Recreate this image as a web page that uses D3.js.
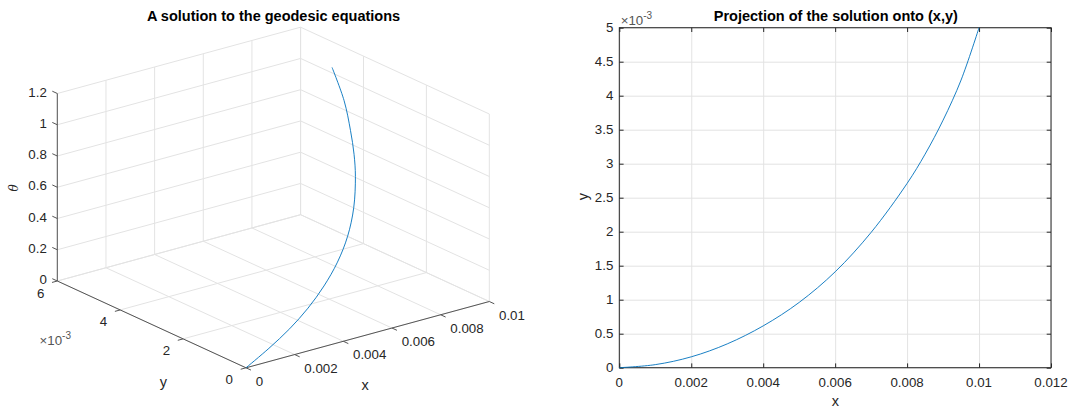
<!DOCTYPE html>
<html>
<head>
<meta charset="utf-8">
<script src="https://cdn.jsdelivr.net/npm/d3@7"></script>
<style>
  body { margin: 0; background: #fff; }
  text { font-family: "Liberation Sans", Arial, Helvetica, sans-serif; fill: #262626; }
</style>
</head>
<body>
<svg id="chart" width="1072" height="409"></svg>
<script>
// curve
const xs = [0, 0.001, 0.002, 0.003, 0.004, 0.005, 0.006, 0.007, 0.008, 0.0085, 0.009, 0.0095, 0.01];
const ys = [0, 0.000045, 0.00016, 0.00035, 0.000615, 0.00096, 0.00141, 0.00199, 0.00271, 0.00314, 0.00364, 0.00423, 0.005];
const thetas = [0, 0.078, 0.15, 0.222, 0.297, 0.375, 0.457, 0.543, 0.635, 0.715, 0.8, 0.915, 1.035];

// left (3d) axes ticks
const xTicks3 = [0, 0.002, 0.004, 0.006, 0.008, 0.01];
const xTickLabels3 = ["0", "0.002", "0.004", "0.006", "0.008", "0.01"];
const yTicks3 = [0, 0.002, 0.004, 0.006];
const yTickLabels3 = ["0", "2", "4", "6"];
const zTicks3 = [0, 0.2, 0.4, 0.6, 0.8, 1, 1.2];
const zTickLabels3 = ["0", "0.2", "0.4", "0.6", "0.8", "1", "1.2"];

// right (2d) axes ticks
const xTicks2 = [0, 0.002, 0.004, 0.006, 0.008, 0.01, 0.012];
const xTickLabels2 = ["0", "0.002", "0.004", "0.006", "0.008", "0.01", "0.012"];
const yTicks2 = [0, 0.0005, 0.001, 0.0015, 0.002, 0.0025, 0.003, 0.0035, 0.004, 0.0045, 0.005];
const yTickLabels2 = ["0", "0.5", "1", "1.5", "2", "2.5", "3", "3.5", "4", "4.5", "5"];

const svg = d3.select("#chart");
const gridColor = "#e3e3e3";
const axisColor = "#262626";
const lineColor = "#0072BD";

// ---------- 3d view ----------
let front = { x: 246, y: 367.8 };   // x=0, y=0, theta=0
let xVec = { x: 243.3, y: -66.3 };   // whole x range
let yVec = { x: -188.7, y: -86.8 };  // whole y range
let sx3 = d3.scaleLinear().domain([0, 0.01]).range([0, 1]);
let sy3 = d3.scaleLinear().domain([0, 0.006]).range([0, 1]);
let sz3 = d3.scaleLinear().domain([0, 1.2]).range([0, 187.5]);

function proj(x, y, z) {
    let a = sx3(x), b = sy3(y);
    return [front.x + a * xVec.x + b * yVec.x, front.y + a * xVec.y + b * yVec.y - sz3(z)];
}

let g3 = svg.append("g").attr("id", "view3d");
let seg = (p, q, color, w) => g3.append("line")
    .attr("x1", p[0]).attr("y1", p[1]).attr("x2", q[0]).attr("y2", q[1])
    .attr("stroke", color).attr("stroke-width", w);

let xMax = 0.01, yMax = 0.006, zMax = 1.2;

// floor grid
xTicks3.forEach(x => seg(proj(x, 0, 0), proj(x, yMax, 0), gridColor, 1));
yTicks3.forEach(y => seg(proj(0, y, 0), proj(xMax, y, 0), gridColor, 1));
// back wall y = yMax
xTicks3.forEach(x => seg(proj(x, yMax, 0), proj(x, yMax, zMax), gridColor, 1));
zTicks3.forEach(z => seg(proj(0, yMax, z), proj(xMax, yMax, z), gridColor, 1));
// back wall x = xMax
yTicks3.forEach(y => seg(proj(xMax, y, 0), proj(xMax, y, zMax), gridColor, 1));
zTicks3.forEach(z => seg(proj(xMax, 0, z), proj(xMax, yMax, z), gridColor, 1));

// axes lines
seg(proj(0, 0, 0), proj(xMax, 0, 0), "#555", 1);
seg(proj(0, 0, 0), proj(0, yMax, 0), "#555", 1);
seg(proj(0, yMax, 0), proj(0, yMax, zMax), "#555", 1);

let unit = v => { let l = Math.hypot(v.x, v.y); return { x: v.x / l, y: v.y / l }; };
let ux = unit(xVec), uy = unit(yVec);
let tickLen = 5.5;

xTicks3.forEach((x, i) => {
    let p = proj(x, 0, 0);
    seg(p, [p[0] - uy.x * tickLen, p[1] - uy.y * tickLen], "#555", 1);
    g3.append("text").attr("x", p[0] + 9.7).attr("y", p[1] + 13.5)
        .attr("dominant-baseline", "central").attr("font-size", 13.3)
        .text(xTickLabels3[i]);
});
yTicks3.forEach((y, i) => {
    let p = proj(0, y, 0);
    seg(p, [p[0] - ux.x * tickLen, p[1] - ux.y * tickLen], "#555", 1);
    g3.append("text").attr("x", p[0] - 16.7).attr("y", p[1] + 12)
        .attr("dominant-baseline", "central").attr("text-anchor", "middle").attr("font-size", 13.3)
        .text(yTickLabels3[i]);
});
zTicks3.forEach((z, i) => {
    let p = proj(0, yMax, z);
    seg(p, [p[0] + uy.x * tickLen, p[1] + uy.y * tickLen], "#555", 1);
    g3.append("text").attr("x", p[0] - 10.5).attr("y", p[1] - 1.5)
        .attr("dominant-baseline", "central").attr("text-anchor", "end").attr("font-size", 13.3)
        .text(zTickLabels3[i]);
});

// curve
let pts3 = xs.map((x, i) => proj(x, ys[i], thetas[i]));
g3.append("path")
    .attr("d", d3.line().curve(d3.curveCatmullRom)(pts3))
    .attr("fill", "none").attr("stroke", lineColor).attr("stroke-width", 0.9);

// labels
g3.append("text").attr("x", 273.5).attr("y", 15.7).attr("dominant-baseline", "central")
    .attr("text-anchor", "middle").attr("font-size", 14.5).attr("font-weight", "bold").style("fill", "#000")
    .text("A solution to the geodesic equations");
g3.append("text").attr("x", 365).attr("y", 385).attr("dominant-baseline", "central")
    .attr("text-anchor", "middle").attr("font-size", 14.5).text("x");
g3.append("text").attr("x", 163.3).attr("y", 381.7).attr("dominant-baseline", "central")
    .attr("text-anchor", "middle").attr("font-size", 14.5).text("y");
g3.append("text").attr("transform", "translate(14,188) rotate(-90)")
    .attr("dominant-baseline", "central").attr("text-anchor", "middle")
    .attr("font-size", 12).attr("font-style", "italic")
    .style("font-family", "'DejaVu Serif', serif").text("θ");
let exp3 = g3.append("text").attr("x", 39.5).attr("y", 339.5).attr("dominant-baseline", "central")
    .attr("font-size", 13.3).style("fill", "#555");
exp3.append("tspan").text("×10");
exp3.append("tspan").attr("dy", -5).attr("font-size", 10).text("-3");

// ---------- 2d view ----------
let box = { left: 619.3, right: 1051, top: 27.7, bottom: 367.7 };
let xScale = d3.scaleLinear().domain([0, 0.012]).range([box.left, box.right]);
let yScale = d3.scaleLinear().domain([0, 0.005]).range([box.bottom, box.top]);
let g2 = svg.append("g").attr("id", "view2d");

g2.append("g").attr("transform", `translate(0,${box.bottom})`)
    .call(d3.axisBottom(xScale).tickValues(xTicks2).tickSize(-(box.bottom - box.top)).tickFormat(""))
    .call(g => g.select(".domain").remove())
    .call(g => g.selectAll("line").attr("stroke", gridColor));
g2.append("g").attr("transform", `translate(${box.left},0)`)
    .call(d3.axisLeft(yScale).tickValues(yTicks2).tickSize(-(box.right - box.left)).tickFormat(""))
    .call(g => g.select(".domain").remove())
    .call(g => g.selectAll("line").attr("stroke", gridColor));

// inner ticks on all four sides
let t2 = 4.3;
let innerTicks = (axis, tr) => g2.append("g").attr("transform", tr).call(axis)
    .call(g => g.select(".domain").remove())
    .call(g => g.selectAll("line").attr("stroke", axisColor))
    .call(g => g.selectAll("text").remove());
innerTicks(d3.axisBottom(xScale).tickValues(xTicks2).tickSize(-t2), `translate(0,${box.bottom})`);
innerTicks(d3.axisTop(xScale).tickValues(xTicks2).tickSize(-t2), `translate(0,${box.top})`);
innerTicks(d3.axisLeft(yScale).tickValues(yTicks2).tickSize(-t2), `translate(${box.left},0)`);
innerTicks(d3.axisRight(yScale).tickValues(yTicks2).tickSize(-t2), `translate(${box.right},0)`);

g2.append("rect").attr("x", box.left).attr("y", box.top)
    .attr("width", box.right - box.left).attr("height", box.bottom - box.top)
    .attr("fill", "none").attr("stroke", axisColor).attr("stroke-width", 1);

g2.selectAll(".xlab").data(xTicks2).enter().append("text")
    .attr("x", d => xScale(d)).attr("y", 382.3).attr("dominant-baseline", "central")
    .attr("text-anchor", "middle").attr("font-size", 13.3)
    .text((d, i) => xTickLabels2[i]);
g2.selectAll(".ylab").data(yTicks2).enter().append("text")
    .attr("x", 613.3).attr("y", d => yScale(d)).attr("dominant-baseline", "central")
    .attr("text-anchor", "end").attr("font-size", 13.3)
    .text((d, i) => yTickLabels2[i]);

g2.append("path")
    .attr("d", d3.line().curve(d3.curveCatmullRom).x(d => xScale(d[0])).y(d => yScale(d[1]))(xs.map((x, i) => [x, ys[i]])))
    .attr("fill", "none").attr("stroke", lineColor).attr("stroke-width", 0.9);

g2.append("text").attr("x", 835.8).attr("y", 15.7).attr("dominant-baseline", "central")
    .attr("text-anchor", "middle").attr("font-size", 14.5).attr("font-weight", "bold").style("fill", "#000")
    .text("Projection of the solution onto (x,y)");
g2.append("text").attr("x", 835.3).attr("y", 401).attr("dominant-baseline", "central")
    .attr("text-anchor", "middle").attr("font-size", 14.5).text("x");
g2.append("text").attr("transform", "translate(583,196.7) rotate(-90)")
    .attr("dominant-baseline", "central").attr("text-anchor", "middle").attr("font-size", 14.5).text("y");
let exp2 = g2.append("text").attr("x", 620.7).attr("y", 20).attr("dominant-baseline", "central")
    .attr("font-size", 13.3).style("fill", "#555");
exp2.append("tspan").text("×10");
exp2.append("tspan").attr("dy", -5).attr("font-size", 10).text("-3");
</script>
</body>
</html>
